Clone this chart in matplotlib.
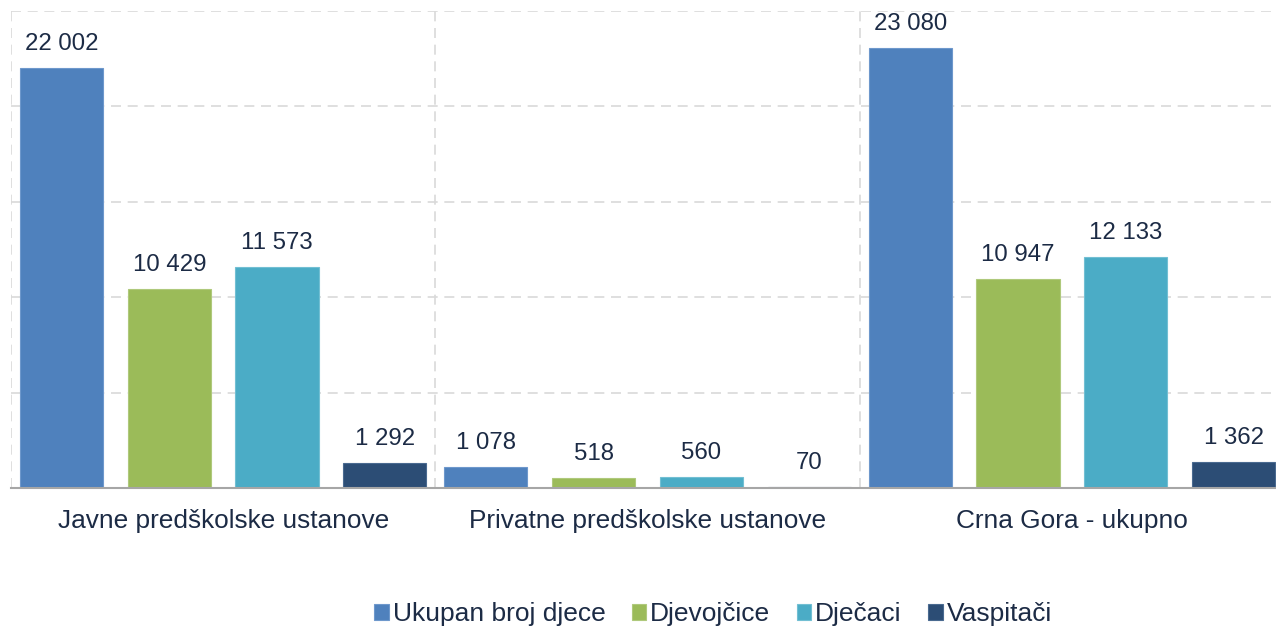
import matplotlib.pyplot as plt
import numpy as np

plt.rcParams["font.family"] = ["Liberation Sans", "DejaVu Sans"]

# --- Podaci ---
categories = ["Javne predškolske ustanove", "Privatne predškolske ustanove", "Crna Gora - ukupno"]
series_names = ["Ukupan broj djece", "Djevojčice", "Dječaci", "Vaspitači"]
ukupno = [22002, 1078, 23080]
djevojcice = [10429, 518, 10947]
djecaci = [11573, 560, 12133]
vaspitaci = [1292, 70, 1362]

colors = ["#4f81bd", "#9bbb59", "#4bacc6", "#2c4d75"]
edge_colors = ["#6e98cc", "#afc97c", "#72bfd3", "#4a6a90"]
text_color = "#1c2b45"


def fmt(v):
    return f"{v:,}".replace(",", " ")


fig = plt.figure(figsize=(12.76, 6.26), dpi=100)
ax = fig.add_axes([11 / 1276, 1 - 488 / 626, 1273 / 1276, 477 / 626])

x = np.arange(len(categories))
pitch = 0.254
width = 0.196
all_series = [ukupno, djevojcice, djecaci, vaspitaci]

for i, (vals, name, c, ec) in enumerate(zip(all_series, series_names, colors, edge_colors)):
    pos = x + (i - 1.5) * pitch
    bars = ax.bar(pos, vals, width, color=c, edgecolor=ec, lw=0.8, label=name, zorder=3)
    for b, v in zip(bars, vals):
        ax.annotate(fmt(v), (b.get_x() + b.get_width() / 2, v),
                    xytext=(0, 13), textcoords="offset pixels",
                    ha="center", va="bottom", fontsize=17.3, color=text_color)

# --- Osi i mreža ---
ax.set_xlim(-0.5, 2.5)
ax.set_ylim(0, 25000)
ax.set_yticks([5000, 10000, 15000, 20000, 25000])
ax.set_yticklabels([])
ax.set_xticks(x)
ax.set_xticklabels(categories, fontsize=18.9, color=text_color)
ax.tick_params(axis="x", length=0, pad=15)
ax.tick_params(axis="y", length=0)
ax.set_xticks([-0.5, 0.5, 1.5, 2.5], minor=True)
ax.tick_params(axis="x", which="minor", length=0)

ax.grid(True, axis="y", which="major", color="#d9d9d9", linestyle=(0, (6, 4)), lw=1.2, zorder=0)
ax.grid(True, axis="x", which="minor", color="#d9d9d9", linestyle=(0, (6, 4)), lw=1.2, zorder=0)

for s in ["top", "right", "left"]:
    ax.spines[s].set_visible(False)
ax.spines["bottom"].set_color("#a6a6a6")
ax.spines["bottom"].set_linewidth(1.5)
ax.spines["bottom"].set_zorder(4)

fig.legend(loc="center", bbox_to_anchor=(713 / 1276, 1 - 614 / 626), ncol=4,
           frameon=False, fontsize=19, labelcolor=text_color,
           handlelength=0.55, handleheight=0.55, handletextpad=0.15, columnspacing=1.0)

fig.savefig("out.png", dpi=100)
